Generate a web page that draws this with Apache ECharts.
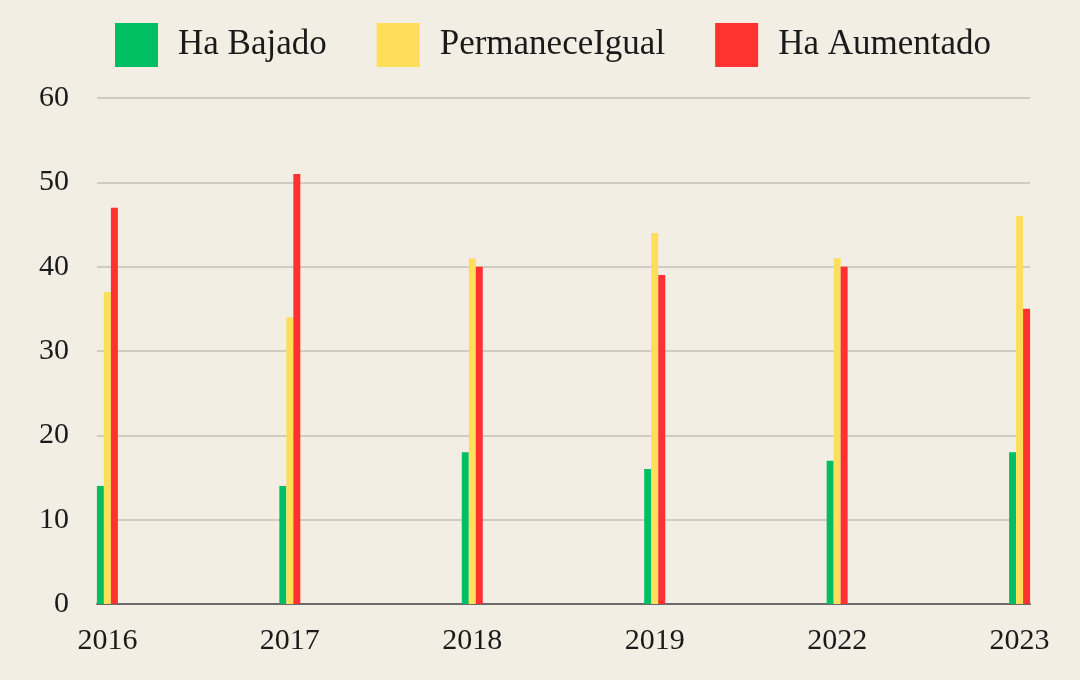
<!DOCTYPE html>
<html>
<head>
<meta charset="utf-8">
<script src="https://cdn.jsdelivr.net/npm/echarts@6/dist/echarts.min.js"></script>
<style>
  html, body { margin: 0; padding: 0; background: #f2eee4; }
  #main { width: 1080px; height: 680px; }
</style>
</head>
<body>
<div id="main"></div>
<script>
// datos
var years = ['2016', '2017', '2018', '2019', '2022', '2023'];
var haBajado = [14, 14, 18, 16, 17, 18];
var permaneceIgual = [37, 34, 41, 44, 41, 46];
var haAumentado = [47, 51, 40, 39, 40, 35];
var yTicks = [0, 10, 20, 30, 40, 50, 60];

function toPoints(arr) {
    return arr.map(function (v, i) { return [i, v]; });
}

var myChart = echarts.init(document.getElementById('main'));
var font = '"Liberation Serif", "DejaVu Serif", serif';

myChart.setOption({
    backgroundColor: '#f2eee4',
    textStyle: { fontFamily: font },
    legend: {
        top: 18,
        left: 110,
        itemWidth: 43,
        itemHeight: 44,
        itemGap: 50,
        icon: 'rect',
        textStyle: { fontFamily: font, fontSize: 35, color: '#1a1a1a', padding: [0, 0, 0, 15] },
        data: ['Ha Bajado', 'PermaneceIgual', 'Ha Aumentado']
    },
    grid: { left: 97, right: 50, top: 98, bottom: 76 },
    xAxis: {
        type: 'value',
        min: -0.057,
        max: 5.057,
        splitLine: { show: false },
        axisTick: { show: false },
        axisLine: { show: true, onZero: false, lineStyle: { color: '#6b6b6b', width: 2 } },
        axisLabel: {
            customValues: [0, 1, 2, 3, 4, 5],
            formatter: function (v) { return years[Math.round(v)]; },
            fontFamily: font,
            fontSize: 30,
            color: '#1a1a1a',
            margin: 22
        }
    },
    yAxis: {
        type: 'value',
        min: yTicks[0],
        max: yTicks[yTicks.length - 1],
        interval: 10,
        axisLine: { show: false },
        axisTick: { show: false },
        splitLine: { lineStyle: { color: '#c4c0b6', width: 1.5 } },
        axisLabel: { fontFamily: font, fontSize: 30, color: '#1a1a1a', margin: 28 }
    },
    series: [
        {
            name: 'Ha Bajado',
            type: 'bar',
            barWidth: 7,
            barGap: '0%',
            itemStyle: { color: '#00bf63' },
            data: toPoints(haBajado)
        },
        {
            name: 'PermaneceIgual',
            type: 'bar',
            barWidth: 7,
            barGap: '0%',
            itemStyle: { color: '#ffde59' },
            data: toPoints(permaneceIgual)
        },
        {
            name: 'Ha Aumentado',
            type: 'bar',
            barWidth: 7,
            barGap: '0%',
            itemStyle: { color: '#ff3131' },
            data: toPoints(haAumentado)
        }
    ]
});
</script>
</body>
</html>
